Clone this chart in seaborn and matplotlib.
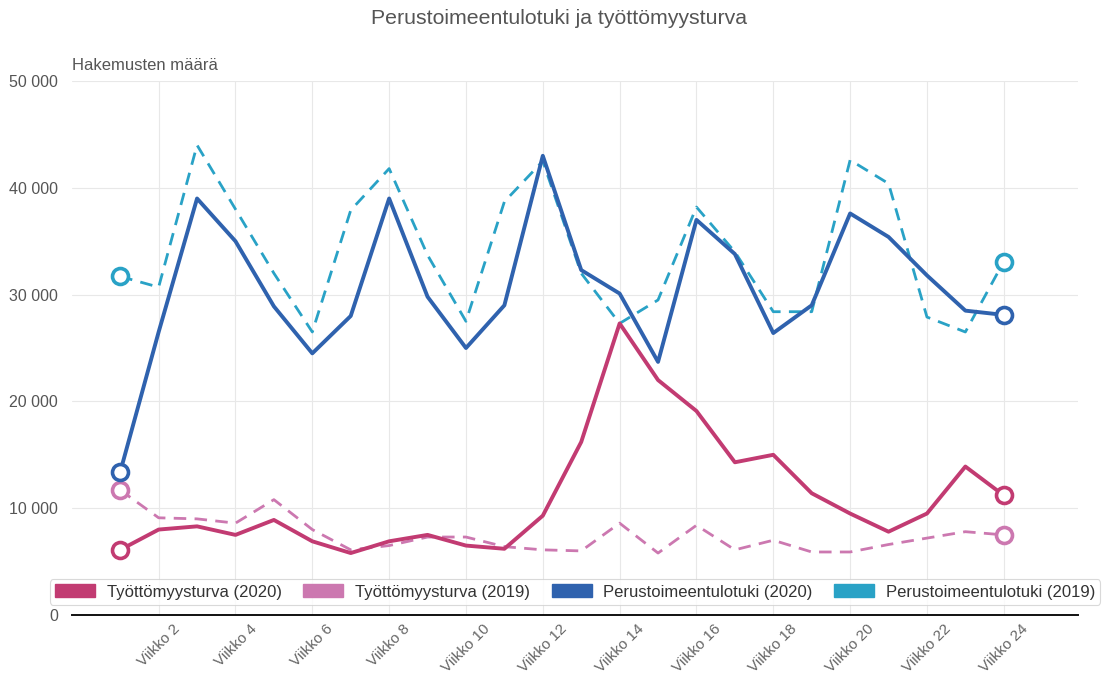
import matplotlib
matplotlib.use("Agg")
import matplotlib.pyplot as plt
import matplotlib.ticker as mticker
from matplotlib.patches import Patch
import seaborn as sns
import pandas as pd

weeks = list(range(1, 25))
tick_weeks = list(range(2, 25, 2))
tick_labels = [f"Viikko {w}" for w in tick_weeks]

tyott_2020 = [6100, 8000, 8300, 7500, 8900, 6900, 5800, 6900, 7500, 6500, 6200, 9300,
              16200, 27300, 22000, 19100, 14300, 15000, 11400, 9500, 7800, 9500, 13900, 11200]
tyott_2019 = [11700, 9100, 9000, 8600, 10800, 8000, 6100, 6500, 7300, 7300, 6400, 6100,
              6000, 8600, 5800, 8400, 6100, 7000, 5900, 5900, 6600, 7200, 7800, 7500]
perus_2020 = [13400, 26500, 39000, 35000, 28900, 24500, 28000, 39000, 29800, 25000, 29000, 43000,
              32300, 30100, 23700, 37000, 33800, 26400, 29000, 37600, 35400, 31800, 28500, 28100]
perus_2019 = [31700, 30700, 44000, 38000, 32000, 26500, 37900, 41800, 33700, 27500, 38700, 42500,
              32000, 27300, 29500, 38200, 34000, 28400, 28400, 42600, 40400, 27900, 26500, 33100]

names = ["Työttömyysturva (2020)", "Työttömyysturva (2019)",
         "Perustoimeentulotuki (2020)", "Perustoimeentulotuki (2019)"]
colors = ["#c23b72", "#cc78b0", "#2f62ae", "#29a2c6"]

sns.set_theme(style="white")
plt.rcParams["font.family"] = ["Liberation Sans", "DejaVu Sans"]

fig = plt.figure(figsize=(11.05, 6.77), dpi=100)
ax = fig.add_axes([0.065, 0.0916, 0.9105, 0.7887])

series = [
    (tyott_2019, colors[1], "--", 2.0),
    (perus_2019, colors[3], "--", 2.0),
    (tyott_2020, colors[0], "-", 2.8),
    (perus_2020, colors[2], "-", 2.8),
]
for vals, col, ls, lw in series:
    df = pd.DataFrame({"week": weeks, "value": vals})
    sns.lineplot(data=df, x="week", y="value", ax=ax, color=col,
                 linewidth=lw, marker="o", markevery=[0, len(vals) - 1],
                 markersize=11.5, markerfacecolor="white", markeredgecolor=col,
                 markeredgewidth=2.6, legend=False)
for line, (_, _, ls, _) in zip(ax.get_lines(), series):
    line.set_linestyle(ls)
    if ls == "--":
        line.set_dashes([4.5, 3])

ax.set_xlim(-0.26, 25.93)
ax.set_ylim(0, 50000)
ax.set_xticks(tick_weeks)
ax.set_xticklabels(tick_labels, rotation=45, ha="center", va="top",
                   color="#666666", fontsize=11)
ax.set_yticks(range(0, 50001, 10000))
ax.yaxis.set_major_formatter(mticker.FuncFormatter(lambda v, p: f"{int(v):,}".replace(",", " ")))
ax.tick_params(axis="y", colors="#555555", labelsize=11.5, length=0, pad=10)
ax.tick_params(axis="x", length=0, pad=5)
ax.set_xlabel("")
ax.set_ylabel("")
ax.grid(True, color="#e8e8e8", linewidth=0.8)
for s in ["top", "right", "left"]:
    ax.spines[s].set_visible(False)
ax.spines["bottom"].set_color("#111111")
ax.spines["bottom"].set_linewidth(1.4)

fig.text(0.5055, 0.972, "Perustoimeentulotuki ja työttömyysturva", ha="center", va="center",
         fontsize=15.3, color="#555555")
fig.text(0.065, 0.903, "Hakemusten määrä", ha="left", va="center", fontsize=12, color="#555555")

handles = [Patch(facecolor=c, edgecolor=c) for c in colors]
leg = fig.legend(handles, names, loc="center", bbox_to_anchor=(0.5205, 0.1256), ncol=4,
                 fontsize=12, handlelength=2.4, handleheight=0.8, columnspacing=1.3,
                 handletextpad=0.7, frameon=True, borderpad=0.3, fancybox=True)
leg.get_frame().set_edgecolor("#d0d0d0")
leg.get_frame().set_linewidth(0.8)
for t in leg.get_texts():
    t.set_color("#333333")

fig.savefig("out.png", dpi=100)
